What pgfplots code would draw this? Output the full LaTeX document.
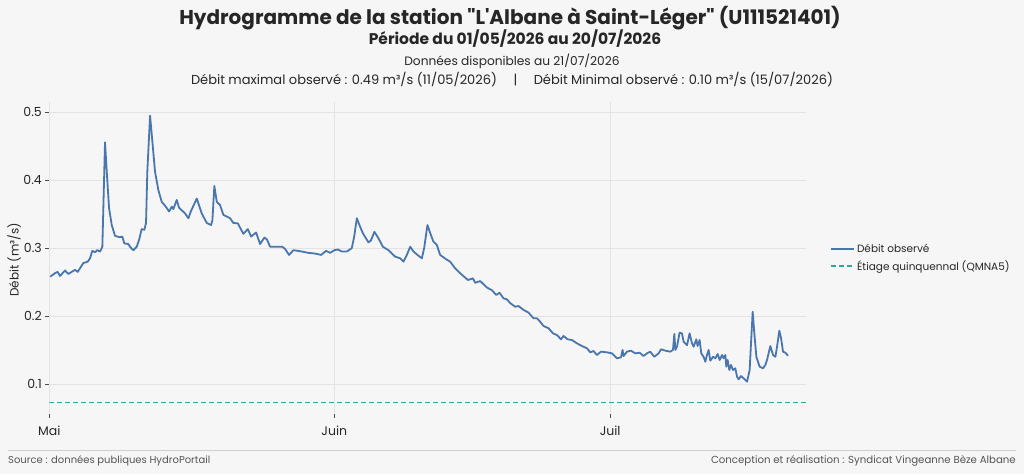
\documentclass[border=0pt]{standalone}
\usepackage{fontspec}
\setmainfont{Poppins}[Ligatures=TeXOff]
\usepackage{pgfplots}
\pgfplotsset{compat=1.18}
\definecolor{bg}{HTML}{F6F6F6}
\definecolor{gridc}{HTML}{E3E3E3}
\definecolor{lineblue}{HTML}{4A76AE}
\definecolor{tealc}{HTML}{2CAA96}
\definecolor{txt}{HTML}{262626}
\definecolor{gtxt}{HTML}{555555}

\pgfplotstableread{
d v
0.1 0.258
0.62 0.263
0.91 0.265
1.16 0.259
1.71 0.267
2.07 0.262
2.80 0.268
3.09 0.265
3.70 0.278
4.18 0.280
4.43 0.285
4.68 0.296
4.97 0.294
5.22 0.297
5.52 0.295
5.77 0.302
6.06 0.456
6.25 0.4125
6.50 0.359
6.79 0.334
7.15 0.318
7.69 0.316
7.94 0.317
8.16 0.307
8.60 0.306
8.78 0.302
9.14 0.297
9.51 0.302
9.76 0.312
10.05 0.328
10.34 0.327
10.52 0.337
10.66 0.4125
10.96 0.495
11.21 0.457
11.50 0.4125
11.86 0.3856
12.23 0.368
12.59 0.3625
13.03 0.354
13.32 0.361
13.49 0.3575
13.86 0.371
14.11 0.3595
14.77 0.351
15.13 0.344
15.39 0.354
16.04 0.373
16.58 0.351
17.13 0.337
17.60 0.334
17.74 0.341
17.95 0.3915
18.22 0.368
18.57 0.3635
18.93 0.349
19.30 0.3465
19.66 0.344
20.02 0.337
20.50 0.3365
21.11 0.321
21.59 0.328
21.95 0.317
22.49 0.323
22.93 0.306
23.39 0.3155
23.66 0.313
24.02 0.302
24.74 0.302
25.35 0.302
25.65 0.2987
26.08 0.290
26.55 0.297
27.46 0.295
28.18 0.293
28.91 0.292
29.56 0.290
30.11 0.296
30.54 0.293
31.01 0.297
31.38 0.298
31.82 0.295
32.36 0.295
32.90 0.300
33.16 0.317
33.45 0.344
33.73 0.334
34.10 0.322
34.71 0.3085
34.97 0.311
35.36 0.324
35.80 0.3145
36.28 0.302
36.89 0.297
37.62 0.2874
38.16 0.285
38.52 0.280
38.89 0.290
39.25 0.302
39.61 0.295
40.04 0.290
40.52 0.285
40.77 0.300
41.13 0.334
41.43 0.322
41.78 0.3095
42.15 0.3045
42.51 0.290
43.17 0.2835
43.60 0.280
44.15 0.270
44.69 0.263
45.53 0.253
46.07 0.2555
46.32 0.249
46.87 0.2515
47.59 0.242
48.14 0.238
48.61 0.231
48.97 0.2343
49.40 0.226
49.77 0.2246
50.13 0.219
50.67 0.2137
51.03 0.2147
51.58 0.209
52.12 0.205
52.67 0.1966
53.04 0.1966
53.39 0.1916
53.75 0.1853
54.30 0.182
54.78 0.1745
55.21 0.172
55.65 0.1657
55.93 0.1706
56.37 0.1657
56.84 0.1647
57.39 0.1598
57.93 0.1558
58.48 0.1525
58.84 0.1465
59.19 0.1485
59.56 0.1426
60.00 0.1475
60.65 0.1465
61.20 0.145
61.74 0.1377
62.18 0.1392
62.35 0.150
62.46 0.1411
62.83 0.1475
63.26 0.149
63.73 0.145
64.20 0.146
64.63 0.1411
65.00 0.145
65.36 0.1475
65.80 0.140
66.27 0.145
66.53 0.151
67.00 0.149
67.54 0.1475
67.83 0.150
67.98 0.1735
68.09 0.150
68.27 0.1548
68.55 0.1754
68.81 0.1745
68.99 0.1622
69.36 0.157
69.64 0.1745
69.90 0.1598
70.08 0.1548
70.37 0.1657
70.51 0.1558
70.73 0.1647
70.91 0.145
71.16 0.140
71.35 0.1327
71.53 0.1426
71.71 0.150
71.89 0.1342
72.19 0.140
72.44 0.1377
72.69 0.144
72.91 0.1352
73.17 0.1426
73.34 0.1377
73.53 0.1426
73.63 0.1254
73.78 0.1352
73.96 0.1205
74.14 0.128
74.36 0.1205
74.61 0.123
74.80 0.1106
74.97 0.1067
75.23 0.1116
75.52 0.1082
75.89 0.1033
76.17 0.1205
76.32 0.160
76.50 0.2063
76.68 0.1745
76.90 0.140
77.26 0.1254
77.63 0.123
77.88 0.128
78.06 0.1352
78.42 0.1558
78.72 0.1426
78.97 0.140
79.15 0.1548
79.40 0.1784
79.59 0.1672
79.80 0.1475
80.05 0.146
80.35 0.1416
}\debit

\begin{document}
\begin{tikzpicture}[x=1pt,y=1pt]
\fill[bg] (0,0) rectangle (1024,474);
\node[font={\fontsize{20}{23}\selectfont\bfseries}, text=txt] at (510,456) {Hydrogramme de la station "L'Albane à Saint-Léger" (U111521401)};
\node[font={\fontsize{15.5}{18}\selectfont\bfseries}, text=txt] at (515,435) {Période du 01/05/2026 au 20/07/2026};
\node[font={\fontsize{12.2}{14}\selectfont}, text=txt] at (512,413) {Données disponibles au 21/07/2026};
\node[font={\fontsize{13}{16}\selectfont}, text=txt] at (512,394) {Débit maximal observé : 0.49 m³/s (11/05/2026)\quad\ |\ \quad Débit Minimal observé : 0.10 m³/s (15/07/2026)};
\node[font={\fontsize{12}{14}\selectfont}, text=txt, rotate=90] at (14,214) {Débit (m³/s)};
\draw[gridc!80!gray, line width=1pt] (8,24) -- (1016,24);
\node[font={\fontsize{10}{12}\selectfont}, text=gtxt, anchor=west, inner sep=0] at (8,13) {Source : données publiques HydroPortail};
\node[font={\fontsize{10.2}{12}\selectfont}, text=gtxt, anchor=east, inner sep=0] at (1016,13) {Conception et réalisation : Syndicat Vingeanne Bèze Albane};
\begin{axis}[
  at={(49.3pt,60pt)}, anchor=south west,
  scale only axis, width=756.7pt, height=312pt,
  xmin=0, xmax=82.3, ymin=0.0557, ymax=0.5152,
  axis line style={draw=none},
  xtick={0,31,61}, xticklabels={Mai,Juin,Juil},
  ytick={0.1,0.2,0.3,0.4,0.5},
  yticklabel style={/pgf/number format/fixed, /pgf/number format/precision=1},
  /pgf/number format/assume math mode=true,
  xtick pos=bottom, ytick pos=left,
  tick align=outside, major tick length=4pt,
  tick style={black!70, line width=0.8pt},
  grid=major, major grid style={gridc, line width=0.8pt},
  ticklabel style={font={\fontsize{12.5}{14}\selectfont}, text=txt},
  xticklabel style={yshift=-4pt},
  legend style={at={(1.031,0.5)}, anchor=west, draw=none, fill=none,
    font={\fontsize{10.5}{13}\selectfont}, text=txt, row sep=2.5pt, inner sep=0pt},
  legend cell align=left,
  legend image code/.code={\draw[#1, line width=2.4pt] (0pt,0pt) -- (23pt,0pt);},
]
\addplot[color=lineblue, line width=1.8pt, line join=round] table[x=d, y=v] {\debit};
\addlegendentry{Débit observé}
\addplot[color=tealc, line width=1.1pt, dash pattern=on 5pt off 3pt] coordinates {(0,0.0729) (82.3,0.0729)};
\addlegendentry{Étiage quinquennal (QMNA5)}
\end{axis}
\pgfresetboundingbox
\path[use as bounding box] (0,0) rectangle (1024,474);
\end{tikzpicture}
\end{document}
